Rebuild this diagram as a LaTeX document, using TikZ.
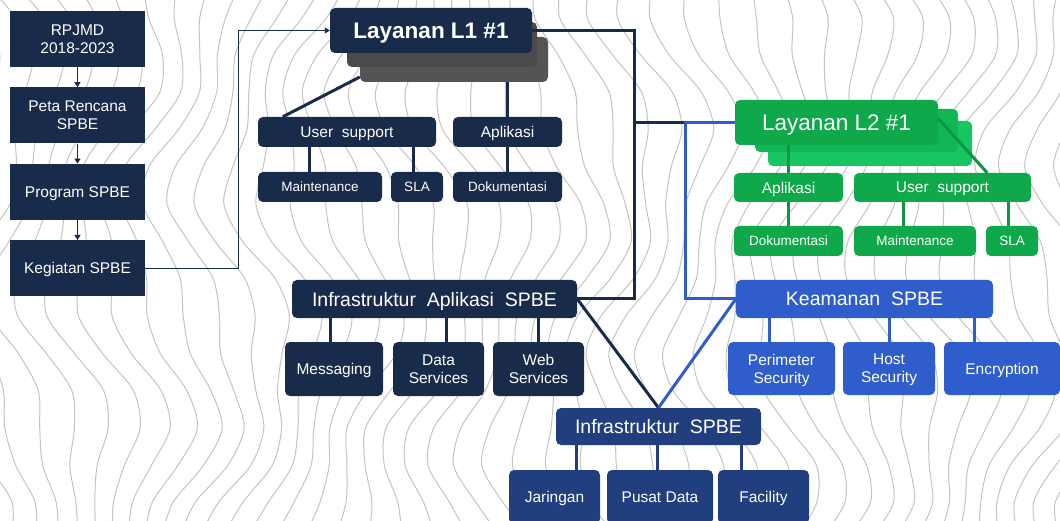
\documentclass[tikz,border=0pt]{standalone}
\usepackage{fontspec}
\setmainfont{Liberation Sans}
\usetikzlibrary{positioning,arrows.meta}
\definecolor{navy}{HTML}{182B4A}
\definecolor{infblue}{HTML}{213F7E}
\definecolor{secblue}{HTML}{2F5DCB}
\definecolor{lgreen}{HTML}{0FA84B}
\definecolor{lgreenA}{HTML}{12B655}
\definecolor{lgreenB}{HTML}{17C663}
\definecolor{gline}{HTML}{0C9544}
\definecolor{shadeA}{HTML}{4A4A4A}
\definecolor{shadeB}{HTML}{545454}
\definecolor{topogray}{HTML}{C4C4C4}
\tikzset{
  blk/.style={rectangle, fill=navy, text=white, align=center, inner sep=0pt,
              text depth=0pt, rounded corners=5pt, font=\fontsize{15.5}{18}\selectfont},
  plan/.style={blk, rounded corners=0pt, minimum width=135pt, minimum height=56pt},
  head/.style={blk, font=\fontsize{19.5}{22}\selectfont, minimum height=38pt},
  leaf/.style={blk, minimum height=30pt},
  cell/.style={blk, minimum height=54pt},
  smalltxt/.style={font=\fontsize{13.5}{16}\selectfont},
  link/.style={line width=3pt, navy},
  flow/.style={-{Triangle[length=5pt,width=6pt]}, navy, line width=0.8pt},
  topo/.style={topogray, line width=1pt},
}

\begin{document}
\begin{tikzpicture}[x=1pt, y=-1pt]
  \useasboundingbox (0,0) rectangle (1060,521);
  \clip (0,0) rectangle (1060,521);
  \fill[white] (0,0) rectangle (1060,521);
  % contour lines in the back
  \foreach \i in {-3,...,42}
    \draw[topo] plot[smooth, domain=-20:540, samples=16, variable=\t]
      ({\i*26 + 30*sin(0.9*\t + 12*\i) + 12*sin(2.2*\t - 20*\i)}, \t);

  % plan column
  \node[plan] (rpjmd) at (77.5,39) {RPJMD\\2018-2023};
  \node[plan, below=20pt of rpjmd] (peta) {Peta Rencana\\SPBE};
  \node[plan, below=20pt of peta] (prog) {Program SPBE};
  \node[plan, below=20pt of prog] (keg) {Kegiatan SPBE};
  \draw[flow] (rpjmd) -- (peta);
  \draw[flow] (peta) -- (prog);
  \draw[flow] (prog) -- (keg);

  % layanan L1
  \node[blk, fill=shadeB, minimum width=188pt, minimum height=45pt] (l1sh2) at (454,59.5) {};
  \node[blk, fill=shadeA, minimum width=190pt, minimum height=45pt] (l1sh1) at (442,44.5) {};
  \node[blk, font=\bfseries\fontsize{22.5}{26}\selectfont, minimum width=202pt, minimum height=45pt] (l1) at (431,30.5) {Layanan L1 \#1};
  \node[leaf, minimum width=178pt] (l1us) at (347,132) {User\ \ support};
  \node[leaf, minimum width=109pt] (l1apl) at (507.5,132) {Aplikasi};
  \node[leaf, smalltxt, minimum width=124pt] (l1mnt) at (320,187) {Maintenance};
  \node[leaf, smalltxt, minimum width=52pt] (l1sla) at (417,187) {SLA};
  \node[leaf, smalltxt, minimum width=109pt] (l1dok) at (507.5,187) {Dokumentasi};
  \draw[flow] (keg.east) -- ++(93,0) |- (l1.west);
  \draw[link] ([yshift=-17.5pt]l1sh2.west) -- ([xshift=25pt]l1us.north west);
  \draw[link] (l1apl.north) -- (l1apl.north |- l1sh2.south);
  \draw[link] ([xshift=-11pt]l1mnt.north) -- ++(0,-25);
  \draw[link] ([xshift=-4pt]l1sla.north) -- ++(0,-25);
  \draw[link] (l1dok.north) -- (l1apl.south);

  % layanan L2
  \node[blk, fill=lgreenB, minimum width=204pt, minimum height=45pt] (l2sh2) at (870,143.5) {};
  \node[blk, fill=lgreenA, minimum width=203pt, minimum height=43pt] (l2sh1) at (856.5,130.5) {};
  \node[blk, fill=lgreen, font=\fontsize{22.5}{26}\selectfont, minimum width=203pt, minimum height=45pt] (l2) at (836.5,122.5) {Layanan L2 \#1};
  \node[leaf, fill=lgreen, minimum width=109pt, minimum height=29pt] (l2apl) at (788.5,187.5) {Aplikasi};
  \node[leaf, fill=lgreen, minimum width=177pt, minimum height=29pt] (l2us) at (942.5,187.5) {User\ \ support};
  \node[leaf, smalltxt, fill=lgreen, minimum width=109pt] (l2dok) at (788.5,241) {Dokumentasi};
  \node[leaf, smalltxt, fill=lgreen, minimum width=122pt] (l2mnt) at (915,241) {Maintenance};
  \node[leaf, smalltxt, fill=lgreen, minimum width=52pt] (l2sla) at (1012,241) {SLA};
  \draw[link, gline] (l2apl.north) -- (l2apl.north |- l2.south);
  \draw[link, gline] (l2dok.north) -- (l2apl.south);
  \draw[link, gline] ([xshift=-12pt]l2mnt.north) -- ++(0,-24);
  \draw[link, gline] ([xshift=-4pt]l2sla.north) -- ++(0,-24);
  \draw[link, gline] ([yshift=4pt]l2.east) -- ([xshift=-44pt]l2us.north east);

  % infrastruktur aplikasi
  \node[head, minimum width=285pt] (iapl) at (434.5,299) {Infrastruktur\ \ Aplikasi\ \ SPBE};
  \node[cell, minimum width=98pt] (msg) at (334,369) {Messaging};
  \node[cell, minimum width=91pt] (data) at (438.5,369) {Data\\Services};
  \node[cell, minimum width=91pt] (web) at (538.5,369) {Web\\Services};
  \draw[link] ([xshift=-4pt]msg.north) -- ++(0,-24);
  \draw[link] ([xshift=7.5pt]data.north) -- ++(0,-24);
  \draw[link] (web.north) -- (web.north |- iapl.south);

  % keamanan
  \node[head, fill=secblue, minimum width=257pt] (kea) at (864.5,299) {Keamanan\ \ SPBE};
  \node[cell, fill=secblue, minimum width=107pt, minimum height=53pt] (peri) at (781.5,368.5) {Perimeter\\Security};
  \node[cell, fill=secblue, minimum width=92pt, minimum height=53pt] (host) at (889,368.5) {Host\\Security};
  \node[cell, fill=secblue, minimum width=116pt, minimum height=53pt] (enc) at (1002,368.5) {Encryption};
  \draw[link, secblue] ([xshift=-12.5pt]peri.north) -- ++(0,-24);
  \draw[link, secblue] (host.north) -- ++(0,-24);
  \draw[link, secblue] ([xshift=-28pt]enc.north) -- ++(0,-24);

  % infrastruktur
  \node[head, fill=infblue, minimum width=205pt, minimum height=37pt] (ispbe) at (658.5,426.5) {Infrastruktur\ \ SPBE};
  \node[cell, fill=infblue, minimum width=91pt] (jar) at (554.5,497) {Jaringan};
  \node[cell, fill=infblue, minimum width=106pt] (pusat) at (660,497) {Pusat Data};
  \node[cell, fill=infblue, minimum width=91pt] (fac) at (763.5,497) {Facility};
  \draw[link, infblue] ([xshift=21.5pt]jar.north) -- ++(0,-25);
  \draw[link, infblue] ([xshift=-3pt]pusat.north) -- ++(0,-25);
  \draw[link, infblue] ([xshift=-22.5pt]fac.north) -- ++(0,-25);

  % main links
  \coordinate (tee) at (633,122.5);
  \draw[link] (l1.east) -- ++(102,0) |- (iapl.east);
  \draw[link] (tee) -- ++(53.5,0);
  \draw[link, secblue] (l2.west) -- ++(-49,0) |- (kea.west);
  \draw[link] (iapl.east) -- (ispbe.north);
  \draw[link, secblue] (kea.west) -- (ispbe.north);
\end{tikzpicture}
\end{document}
